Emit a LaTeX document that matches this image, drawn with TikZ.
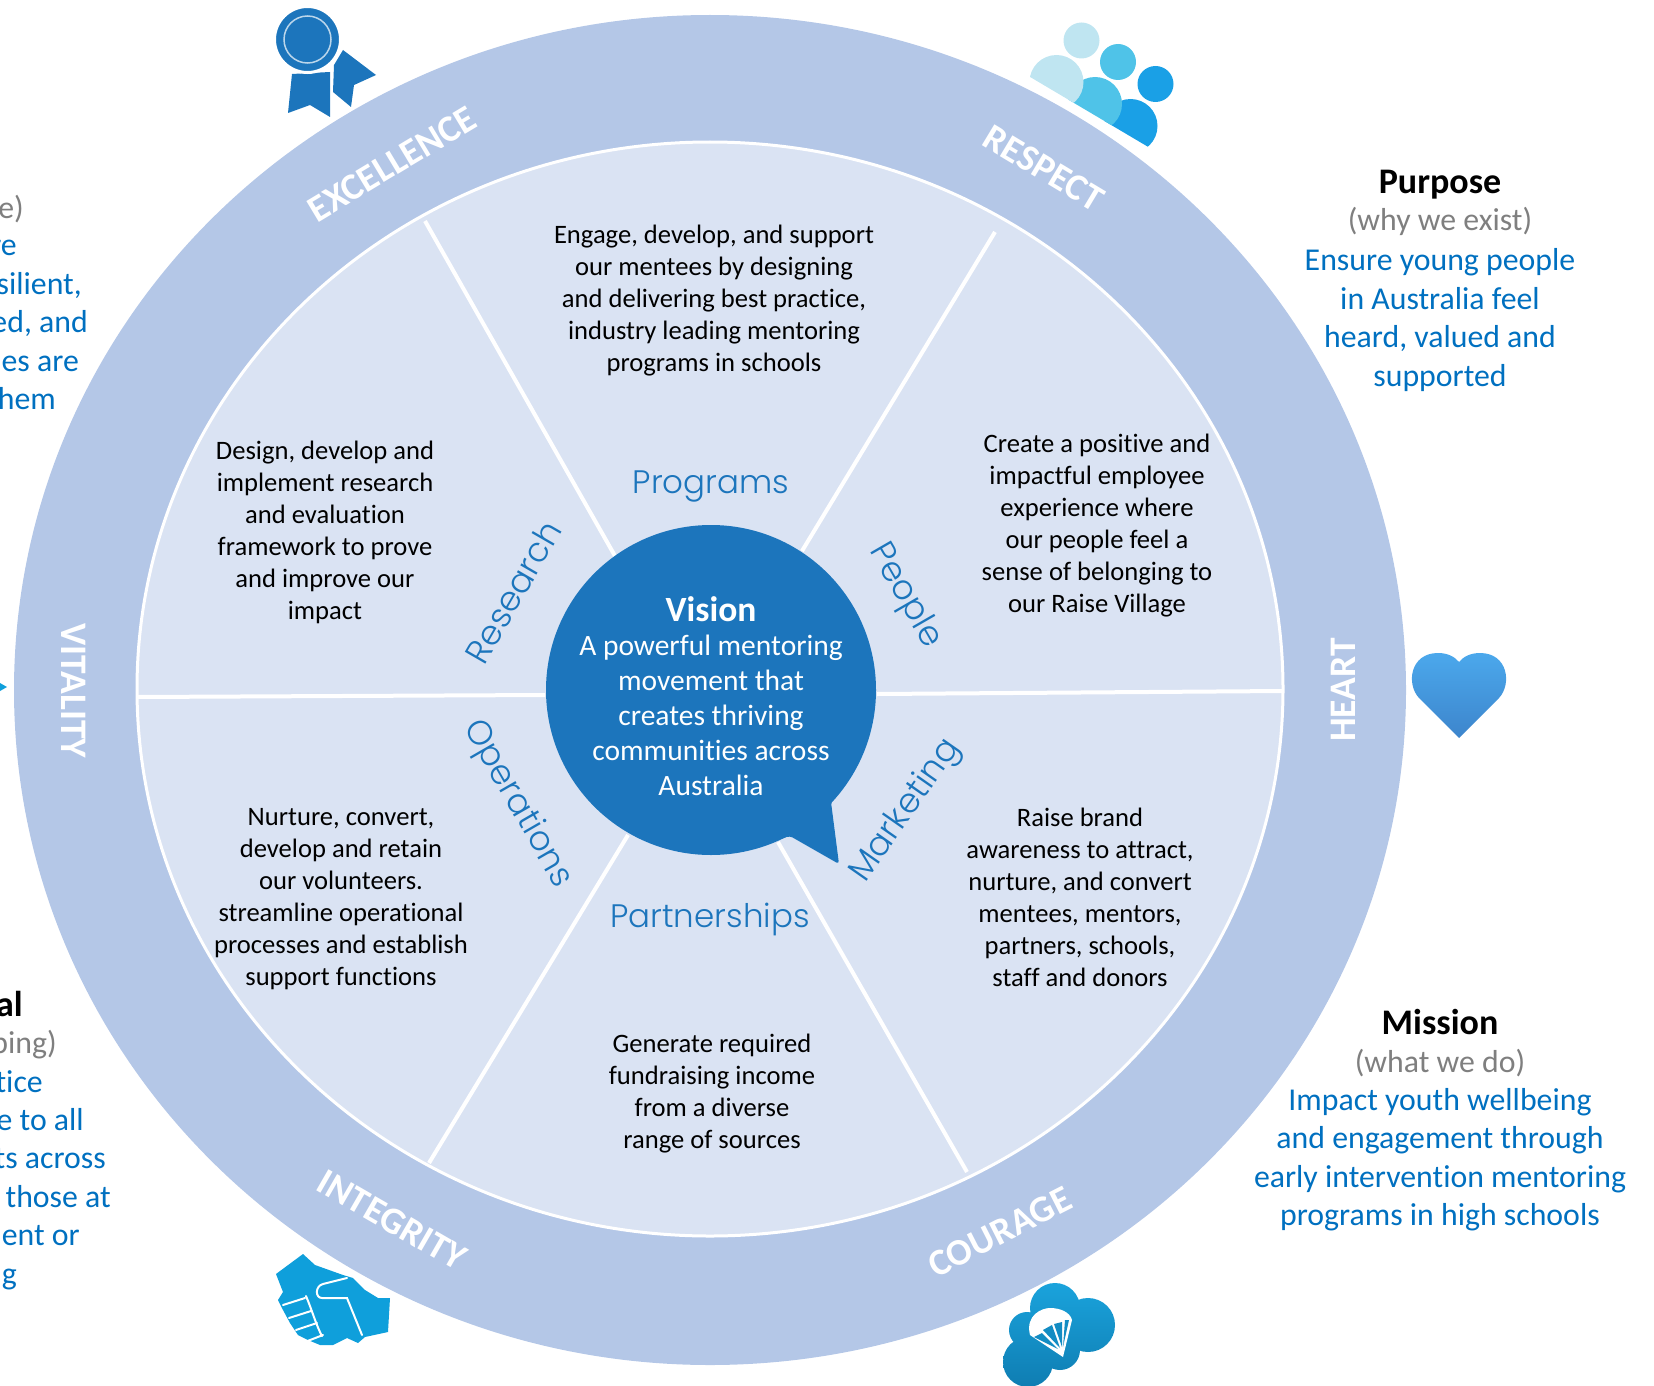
\documentclass[tikz,border=0pt]{standalone}
\usepackage{fontspec}
\setmainfont[Ligatures=NoCommon]{Carlito}
\newfontfamily\labelfont{Poppins Light}
\usetikzlibrary{positioning}
\definecolor{ringblue}{HTML}{B4C7E7}
\definecolor{wedgeblue}{HTML}{DAE3F3}
\definecolor{bubbleblue}{HTML}{1C75BC}
\definecolor{textblue}{HTML}{0070C0}
\definecolor{greytext}{HTML}{7F7F7F}
\definecolor{peoplelight}{HTML}{BFE5F1}
\definecolor{peoplemid}{HTML}{4FC3E8}
\definecolor{peopledark}{HTML}{1AA0E6}
\definecolor{shakeblue}{HTML}{0F9FDB}
\definecolor{cloudtop}{HTML}{1AA3DC}
\definecolor{cloudbottom}{HTML}{0F7DB2}
\definecolor{hearttop}{HTML}{4BA8EC}
\definecolor{heartbottom}{HTML}{3D85CC}

\begin{document}
\begin{tikzpicture}[
	x=1pt, y=-1pt,
	node distance=3pt,
	body/.style={inner sep=0pt, align=center, font=\fontsize{26.6}{32}\selectfont},
	value/.style={inner sep=0pt, text=white, font=\fontsize{37.5}{42}\selectfont\bfseries},
	sector/.style={inner sep=0pt, text=bubbleblue, font=\fontsize{32.5}{38}\labelfont},
	sectorturned/.style={inner sep=0pt, text=bubbleblue, font=\fontsize{34}{38}\labelfont},
	head/.style={inner sep=0pt, font=\fontsize{36}{38}\selectfont\bfseries},
	why/.style={inner sep=0pt, text=greytext, font=\fontsize{31.8}{38.5}\selectfont},
	blurb/.style={inner sep=0pt, align=center, text=textblue, font=\fontsize{31.8}{38.5}\selectfont},
	spoke/.style={draw=white, line width=4pt},
	cut/.style={anchor=base east, inner sep=0pt}
	]
	\useasboundingbox (0,0) rectangle (1654,1386);

	% Medal
	\fill[bubbleblue] (292,74) -- (330,72) -- (330,117) -- (310,105) -- (288,113) -- cycle;
	\fill[bubbleblue] (343,50) -- (376,75) -- (354,85) -- (351,107) -- (333,92) -- (334,65) -- cycle;
	\draw[white, line width=3pt, fill=bubbleblue] (307.5,39.5) circle (33pt);
	\draw[white!70!bubbleblue, line width=1.5pt] (307.5,39.5) circle (23.5pt);

	% People
	\fill[peoplelight] (1081.5,40.5) circle (18pt);
	\fill[peoplemid] (1118,62) circle (18pt);
	\fill[peopledark] (1155.5,84) circle (18pt);
	\begin{scope}
		\clip (1020,71) -- (1150,148) -- (1180,100) -- (1080,20) -- cycle;
		\fill[peopledark] (1130.5,126) circle (27pt);
		\fill[peoplemid] (1095,104) circle (27pt);
		\fill[peoplelight] (1056.5,82) circle (27pt);
	\end{scope}

	% Ring
	\fill[ringblue] (710,690) ellipse [x radius=696pt, y radius=675pt];
	\draw[white, line width=3pt, fill=wedgeblue] (710,689) ellipse [x radius=573pt, y radius=547pt];

	% Spokes
	\coordinate (rimexcellence) at (425,221);
	\coordinate (hubexcellence) at (615,556);
	\coordinate (rimrespect) at (995,232);
	\coordinate (hubrespect) at (802,551);
	\coordinate (rimvitality) at (137,697);
	\coordinate (hubvitality) at (545,695);
	\coordinate (rimheart) at (1283,691);
	\coordinate (hubheart) at (877,694);
	\coordinate (rimintegrity) at (429,1163);
	\coordinate (hubintegrity) at (628,835);
	\coordinate (rimcourage) at (967,1172);
	\coordinate (hubcourage) at (778,842);
	\draw[spoke] (rimexcellence) -- (hubexcellence);
	\draw[spoke] (rimrespect) -- (hubrespect);
	\draw[spoke] (rimvitality) -- (hubvitality);
	\draw[spoke] (rimheart) -- (hubheart);
	\draw[spoke] (rimintegrity) -- (hubintegrity);
	\draw[spoke] (rimcourage) -- (hubcourage);

	% Speech bubble
	\fill[bubbleblue] (711,690) circle (165pt);
	\fill[bubbleblue, rounded corners=3pt] (846,780) -- (831,802) -- (839,864) -- (790,836) -- (760,845) -- cycle;
	\node[inner sep=0pt, text=white, font=\fontsize{35.5}{38}\selectfont\bfseries] (vision) at (711,609) {Vision};
	\node[inner sep=0pt, text=white, align=center, font=\fontsize{29.5}{35}\selectfont, below=13pt of vision] (visiontext) {A powerful mentoring\\movement that\\creates thriving\\communities across\\Australia};

	% Ring values
	\node[value, rotate=31] (excellence) at (392,164) {EXCELLENCE};
	\node[value, rotate=-31] (respect) at (1044,168) {RESPECT};
	\node[value, rotate=90] (heart) at (1343,690) {HEART};
	\node[value, rotate=27] (courage) at (1000,1232) {COURAGE};
	\node[value, rotate=-30] (integrity) at (392,1220) {INTEGRITY};
	\node[value, rotate=-90] (vitality) at (74,691) {VITALITY};

	% Sectors
	\node[sector] (programs) at (711,486) {Programs};
	\node[sector] (partnerships) at (710,919) {Partnerships};
	\node[sectorturned, rotate=60] (research) at (513,592) {Research};
	\node[sectorturned, rotate=-60] (people) at (905,596) {People};
	\node[sectorturned, rotate=55] (marketing) at (906,811) {Marketing};
	\node[sectorturned, rotate=-60] (operations) at (517,804) {Operations};

	% Sector texts
	\node[body] (programstext) at (714,301) {Engage, develop, and support\\our mentees by designing\\and delivering best practice,\\industry leading mentoring\\programs in schools};
	\node[body] (researchtext) at (325,532) {Design, develop and\\implement research\\and evaluation\\framework to prove\\and improve our\\impact};
	\node[body] (peopletext) at (1097,526) {Create a positive and\\impactful employee\\experience where\\our people feel a\\sense of belonging to\\our Raise Village};
	\node[body] (marketingtext) at (1080,897) {Raise brand\\awareness to attract,\\nurture, and convert\\mentees, mentors,\\partners, schools,\\staff and donors};
	\node[body] (partnershipstext) at (712,1094) {Generate required\\fundraising income\\from a diverse\\range of sources};
	\node[body] (operationstext) at (341,899) {Nurture, convert,\\develop and retain\\our volunteers.\\streamline operational\\processes and establish\\support functions};

	% Right column
	\node[head] (purpose) at (1440,185) {Purpose};
	\node[why, below=7pt of purpose] (purposewhy) {(why we exist)};
	\node[blurb, below=13pt of purposewhy] (purposetext) {Ensure young people\\in Australia feel\\heard, valued and\\supported};
	\node[head] (mission) at (1440,1022) {Mission};
	\node[why, below=14pt of mission] (missionwhy) {(what we do)};
	\node[blurb, below=11pt of missionwhy] (missiontext) {Impact youth wellbeing\\and engagement through\\early intervention mentoring\\programs in high schools};

	% Left column, cut by the page edge
	\node[cut, text=greytext, font=\fontsize{31.8}{38}\selectfont] (lefta) at (24,218) {e)};
	\node[cut, text=textblue, font=\fontsize{31.8}{38}\selectfont] (leftb) at (17,255) {re};
	\node[cut, text=textblue, font=\fontsize{31.8}{38}\selectfont] (leftc) at (82,294) {silient,};
	\node[cut, text=textblue, font=\fontsize{31.8}{38}\selectfont] (leftd) at (88,332) {ed, and};
	\node[cut, text=textblue, font=\fontsize{31.8}{38}\selectfont] (lefte) at (79,371) {es are};
	\node[cut, text=textblue, font=\fontsize{31.8}{38}\selectfont] (leftf) at (56,409) {hem};
	\node[cut, font=\fontsize{36}{38}\selectfont\bfseries] (leftg) at (23,1016) {al};
	\node[cut, text=greytext, font=\fontsize{31.8}{38}\selectfont] (lefth) at (57,1053) {ping)};
	\node[cut, text=textblue, font=\fontsize{31.8}{38}\selectfont] (lefti) at (43,1092) {tice};
	\node[cut, text=textblue, font=\fontsize{31.8}{38}\selectfont] (leftj) at (84,1130) {e to all};
	\node[cut, text=textblue, font=\fontsize{31.8}{38}\selectfont] (leftk) at (106,1168) {ts across};
	\node[cut, text=textblue, font=\fontsize{31.8}{38}\selectfont] (leftl) at (111,1207) {those at};
	\node[cut, text=textblue, font=\fontsize{31.8}{38}\selectfont] (leftm) at (80,1245) {ent or};
	\node[cut, text=textblue, font=\fontsize{31.8}{38}\selectfont] (leftn) at (17,1284) {g};
	\fill[shakeblue] (0,683) -- (7,687) -- (0,691) -- cycle;

	% Heart
	\shade[top color=hearttop, bottom color=heartbottom] (1459,738) -- (1419,698) .. controls (1406,684) and (1410,653) .. (1438,653) .. controls (1448,653) and (1455,657) .. (1459,662) .. controls (1463,657) and (1470,653) .. (1480,653) .. controls (1508,653) and (1512,684) .. (1499,698) -- cycle;

	% Handshake
	\fill[shakeblue] (276,1274) -- (303,1254) -- (315,1265) -- (343,1275) -- (353,1278) -- (365,1290) -- (378,1298) -- (390,1298) -- (388,1332) -- (365,1337) -- (358,1343) -- (347,1338) -- (333,1345) -- (320,1345) -- (308,1340) -- (298,1335) -- (290,1323) -- (283,1310) -- (278,1300) -- (283,1292) -- cycle;
	\draw[white, line width=2pt, line cap=round] (347,1278) -- (323,1284) .. controls (315,1286) and (315,1298) .. (322,1298) -- (347,1298) -- (362,1335);
	\draw[white, line width=2pt, line cap=round] (283,1305) -- (305,1298);
	\draw[white, line width=2pt, line cap=round] (289,1318) -- (311,1311);
	\draw[white, line width=2pt, line cap=round] (296,1330) -- (317,1323);
	\draw[white, line width=2pt, line cap=round] (305,1342) -- (323,1335);
	\draw[white, line width=2pt, line cap=round] (306,1296) .. controls (312,1310) and (316,1325) .. (322,1336);

	% Cloud and parachute
	\shade[top color=cloudtop, bottom color=cloudbottom] (1055,1308) circle (25pt) (1088,1325) circle (27pt) (1027,1330) circle (18pt) (1028,1362) circle (25pt) (1060,1350) circle (20pt);
	\fill[white] (1030,1335) .. controls (1025,1315) and (1042,1308) .. (1050,1308) .. controls (1060,1308) and (1070,1312) .. (1072,1320) -- (1063,1357) -- cycle;
	\fill[cloudbottom!60!cloudtop] (1034,1337) -- (1042,1333) -- (1058,1349) -- cycle;
	\fill[cloudbottom!60!cloudtop] (1043,1330) -- (1052,1325) -- (1060,1348) -- cycle;
	\fill[cloudbottom!60!cloudtop] (1054,1324) -- (1062,1322) -- (1062,1347) -- cycle;
	\fill[cloudbottom!60!cloudtop] (1065,1320) -- (1069,1320) -- (1063,1347) -- cycle;

\end{tikzpicture}
\end{document}
